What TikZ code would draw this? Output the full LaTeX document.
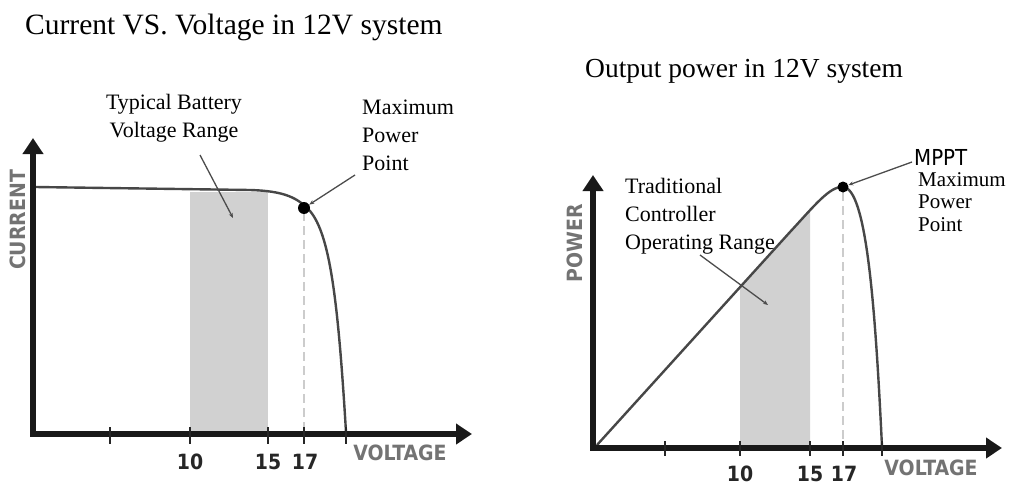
\documentclass[tikz,border=0pt]{standalone}
\usepackage{fontspec}
\setmainfont{Liberation Serif}
\setsansfont{DejaVu Sans}
\newfontfamily\condfont{DejaVu Sans Condensed}
\usetikzlibrary{arrows.meta}
\begin{document}
\begin{tikzpicture}[x=1pt,y=-1pt,
  axis/.style={line width=6pt,-{Triangle[width=20pt,length=16pt]},black!90},
  curve/.style={line width=2.4pt,black!72},
  tick/.style={line width=1.5pt,black!85},
  num/.style={font=\condfont\bfseries\fontsize{21}{21}\selectfont,text=black!85},
  axlab/.style={font=\condfont\bfseries\fontsize{21}{21}\selectfont,text=black!55},
  lab/.style={font=\fontsize{22}{28}\selectfont,align=left,inner sep=0pt},
  ttl/.style={font=\fontsize{29.5}{30}\selectfont,anchor=west,inner sep=0pt},
  shade/.style={fill=black!18},
  pointer/.style={line width=1.3pt,black!70,-{Stealth[length=5pt,width=4pt]}},
  mppdash/.style={line width=2.4pt,black!20,dash pattern=on 9pt off 5pt}]
\useasboundingbox (0,0) rectangle (1011,492);
% titles
\node[ttl] (t1) at (25,27) {Current VS. Voltage in 12V system};
\node[ttl,font=\fontsize{27.5}{28}\selectfont] (t2) at (585,71) {Output power in 12V system};
% ===== left plot =====
\coordinate (lo) at (33,434);
\coordinate (lyt) at (33,138);
\coordinate (lxt) at (472,434);
\fill[shade] (190,192) rectangle (268,432);
\draw[mppdash] (304,212) -- (304,432);
\draw[curve] (35,187) -- (250,190) .. controls (285,191) and (298,198) .. (310,211) .. controls (330,235) and (338,300) .. (346,432);
\draw[axis] (lo) -- (lyt);
\draw[axis] (30,434) -- (lxt);
\foreach \x in {110,190,268,304,346} \draw[tick] (\x,427) -- (\x,444);
\node[num] (n10) at (190,462) {10};
\node[num] (n15) at (268,462) {15};
\node[num] (n17) at (305,462) {17};
\node[axlab] (vl) at (400,453) {VOLTAGE};
\node[axlab,rotate=90] (cl) at (18,220) {CURRENT};
\node[circle,fill=black,inner sep=0pt,minimum size=12pt] (mpp1) at (304,208) {};
\node[lab,align=center] (bat) at (174,118) {Typical Battery\\Voltage Range};
\coordinate (bata) at (233,218);
\draw[pointer] (200,155) -- (bata);
\node[lab,anchor=north west] (mp1) at (362,100) {Maximum\\Power\\Point};
\draw[pointer] (355,175) -- (mpp1);
% ===== right plot =====
\coordinate (ro) at (593,448);
\coordinate (ryt) at (593,175);
\coordinate (rxt) at (1002,448);
\begin{scope}
\clip (740,100) rectangle (810,446);
\fill[shade] (597,445) -- (790,232) .. controls (815,205) and (830,186) .. (843,187) -- (843,446) -- cycle;
\end{scope}
\draw[mppdash] (843,192) -- (843,446);
\draw[curve] (597,445) -- (790,232) .. controls (815,205) and (830,186) .. (843,187) .. controls (866,188) and (875,300) .. (882,447);
\draw[axis] (ro) -- (ryt);
\draw[axis] (590,448) -- (rxt);
\foreach \x in {665,740,810,843,882} \draw[tick] (\x,441) -- (\x,456);
\node[num] (m10) at (740,474) {10};
\node[num] (m15) at (810,474) {15};
\node[num] (m17) at (844,474) {17};
\node[axlab] (vr) at (931,468) {VOLTAGE};
\node[axlab,rotate=90] (pl) at (575,243) {POWER};
\node[circle,fill=black,inner sep=0pt,minimum size=11pt] (mpp2) at (843,187) {};
\node[lab,anchor=north west] (trad) at (625,178) {Traditional\\Controller\\Operating Range};
\coordinate (trada) at (768,305);
\draw[pointer] (700,255) -- (trada);
\node[anchor=west,inner sep=0pt,font=\condfont\fontsize{22}{22}\selectfont] (mppt) at (914,157) {MPPT};
\node[lab,anchor=north west,font=\fontsize{21}{22.5}\selectfont] (mp2) at (918,172) {Maximum\\Power\\Point};
\draw[pointer] (912,162) -- (mpp2);
\end{tikzpicture}
\end{document}
